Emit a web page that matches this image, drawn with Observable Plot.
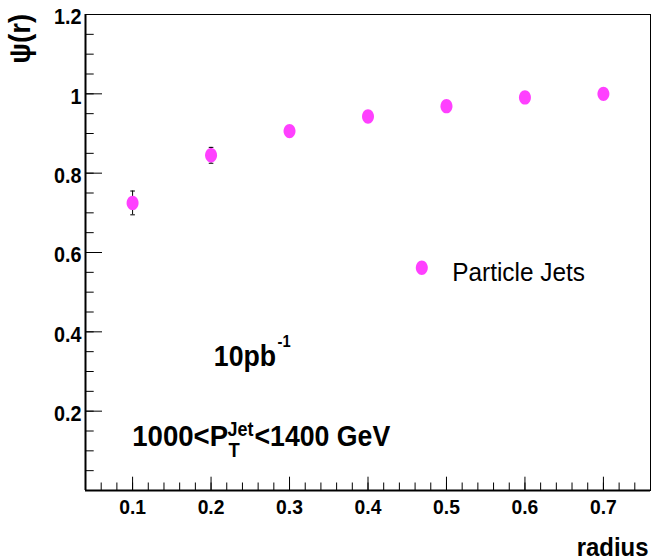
<!DOCTYPE html>
<html>
<head>
<meta charset="utf-8">
<script src="https://cdn.jsdelivr.net/npm/d3@7"></script>
<script src="https://cdn.jsdelivr.net/npm/@observablehq/plot@0.6"></script>
<style>
  html, body { margin: 0; padding: 0; background: white; }
  #chart { width: 653px; height: 560px; }
</style>
</head>
<body>
<div id="chart"></div>
<script>
// ---- data ----
const radius = [0.1, 0.2, 0.3, 0.4, 0.5, 0.6, 0.7];
const psi    = [0.725, 0.845, 0.906, 0.943, 0.969, 0.991, 1.0];
const psiErr = [0.030, 0.020, 0.012, 0.010, 0.008, 0.006, 0.004];

const xDomain = [0.04, 0.76];
const yDomain = [0, 1.2];
const xTickLabels = [0.1, 0.2, 0.3, 0.4, 0.5, 0.6, 0.7];
const yTickLabels = [0.2, 0.4, 0.6, 0.8, 1, 1.2];
const yMajorTicks = [0, 0.2, 0.4, 0.6, 0.8, 1, 1.2];

const seriesName = "Particle Jets";
const yTitle = "ψ(r)";
const xTitle = "radius";
const lumiText = ["10pb", "-1"];
const ptText = ["1000<P", "Jet", "T", "<1400 GeV"];

// ---- layout ----
const W = 653, H = 560;
const mL = 85, mR = 3, mT = 14, mB = 70;
const innerW = W - mL - mR, innerH = H - mT - mB;
const magenta = "#ff40ff";
const xMinor = d3.range(2, 39).map(i => +(i * 0.02).toFixed(2));
const yMinor = d3.range(0, 25).map(i => +(i * 0.05).toFixed(2));

const rows = radius.map((r, i) => ({r, psi: psi[i], err: psiErr[i]}));

const ellipse = {
  draw(ctx, size) {
    const r = Math.sqrt(size / Math.PI), rx = r, ry = r * 1.2, k = 0.5523;
    ctx.moveTo(rx, 0);
    ctx.bezierCurveTo(rx, ry * k, rx * k, ry, 0, ry);
    ctx.bezierCurveTo(-rx * k, ry, -rx, ry * k, -rx, 0);
    ctx.bezierCurveTo(-rx, -ry * k, -rx * k, -ry, 0, -ry);
    ctx.bezierCurveTo(rx * k, -ry, rx, -ry * k, rx, 0);
    ctx.closePath();
  }
};
const cap = {
  draw(ctx, size) {
    const r = Math.sqrt(size / Math.PI);
    ctx.moveTo(-r, 0); ctx.lineTo(r, 0);
  }
};

const bold = {fontWeight: "bold"};

const plot = Plot.plot({
  width: W, height: H,
  marginLeft: mL, marginRight: mR, marginTop: mT, marginBottom: mB,
  style: {fontFamily: "'Liberation Sans', Arial, Helvetica, sans-serif", background: "white", color: "black", overflow: "visible"},
  x: {domain: xDomain},
  y: {domain: yDomain},
  marks: [
    Plot.frame({stroke: "black", strokeWidth: 1}),
    // inward ticks
    Plot.tickY(yMinor, {y: d => d, insetRight: innerW - 8.7, stroke: "black"}),
    Plot.tickY(yMajorTicks, {y: d => d, insetRight: innerW - 17, stroke: "black"}),
    Plot.tickX(xMinor, {x: d => d, insetTop: innerH - 7.5, stroke: "black"}),
    Plot.tickX(xTickLabels, {x: d => d, insetTop: innerH - 13.3, stroke: "black"}),
    // axis lines
    Plot.ruleX([xDomain[0]], {strokeWidth: 2, stroke: "black"}),
    Plot.ruleY([yDomain[0]], {strokeWidth: 2, stroke: "black"}),
    // axis labels
    Plot.axisX(xTickLabels, {tickSize: 0, tickPadding: 9, fontSize: 21, fontWeight: "bold", tickFormat: d => String(d), label: null}),
    Plot.axisY(yTickLabels, {tickSize: 0, tickPadding: 4, dy: 3, fontSize: 21.5, fontWeight: "bold", tickFormat: d => String(d), label: null}),
    // error bars
    Plot.ruleX(rows, {x: "r", y1: d => d.psi - d.err, y2: d => d.psi + d.err, stroke: "black", strokeWidth: 1}),
    Plot.dot(rows, {x: "r", y: d => d.psi + d.err, symbol: cap, r: 2.3, stroke: "black", fill: "none", strokeWidth: 1}),
    Plot.dot(rows, {x: "r", y: d => d.psi - d.err, symbol: cap, r: 2.3, stroke: "black", fill: "none", strokeWidth: 1}),
    // markers
    Plot.dot(rows, {x: "r", y: "psi", symbol: ellipse, r: 6, fill: magenta, stroke: "none"}),
    // axis titles
    Plot.text([yTitle], {frameAnchor: "top-left", dx: -56, dy: -0.7, rotate: -90, textAnchor: "end", lineAnchor: "bottom", fontSize: 30, ...bold}),
    Plot.text([xTitle], {frameAnchor: "bottom-right", dx: -2, dy: 65, textAnchor: "end", lineAnchor: "bottom", fontSize: 26, ...bold}),
    // legend
    Plot.dot([seriesName], {frameAnchor: "top-left", dx: 336.3, dy: 253.3, symbol: ellipse, r: 6, fill: magenta, stroke: "none"}),
    Plot.text([seriesName], {frameAnchor: "top-left", dx: 366.7, dy: 266, textAnchor: "start", lineAnchor: "bottom", fontSize: 26.5}),
    // annotations
    Plot.text([lumiText[0]], {frameAnchor: "top-left", dx: 128.3, dy: 351.7, textAnchor: "start", lineAnchor: "bottom", fontSize: 29, ...bold}),
    Plot.text([lumiText[1]], {frameAnchor: "top-left", dx: 192, dy: 332.5, textAnchor: "start", lineAnchor: "bottom", fontSize: 16, ...bold}),
    Plot.text([ptText[0]], {frameAnchor: "top-left", dx: 46.7, dy: 431, textAnchor: "start", lineAnchor: "bottom", fontSize: 30, ...bold}),
    Plot.text([ptText[1]], {frameAnchor: "top-left", dx: 142, dy: 421, textAnchor: "start", lineAnchor: "bottom", fontSize: 19.5, ...bold}),
    Plot.text([ptText[2]], {frameAnchor: "top-left", dx: 143, dy: 442, textAnchor: "start", lineAnchor: "bottom", fontSize: 20, ...bold}),
    Plot.text([ptText[3]], {frameAnchor: "top-left", dx: 169, dy: 431, textAnchor: "start", lineAnchor: "bottom", fontSize: 29, ...bold})
  ]
});

// condense glyphs horizontally, like the original's Helvetica rendering
plot.querySelectorAll("text").forEach(t => {
  const tr = t.getAttribute("transform");
  if (tr) {
    t.setAttribute("transform", tr + " scale(0.92,1)");
  } else {
    const x = +(t.getAttribute("x") || 0), y = +(t.getAttribute("y") || 0);
    t.removeAttribute("x"); t.removeAttribute("y");
    t.setAttribute("transform", `translate(${x},${y}) scale(0.92,1)`);
  }
});

document.getElementById("chart").appendChild(plot);
</script>
</body>
</html>
